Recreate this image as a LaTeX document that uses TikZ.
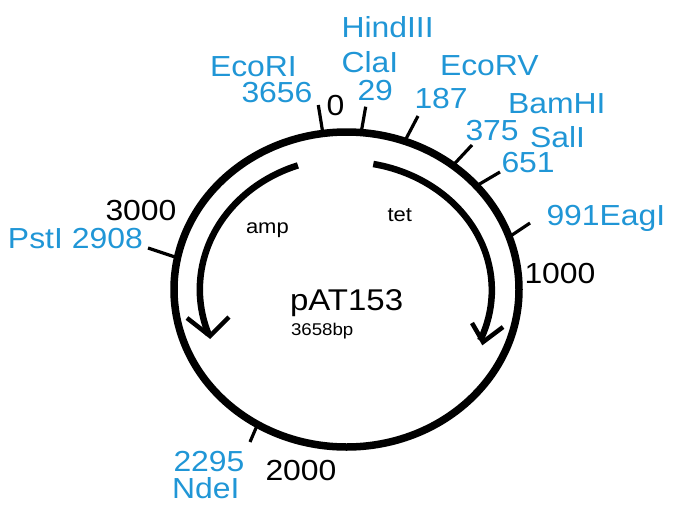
\documentclass[tikz,border=0pt]{standalone}
\usepackage{fontspec}
\setmainfont[FakeStretch=1.1]{Liberation Sans}
\definecolor{siteblue}{RGB}{32,150,214}
\begin{document}
\begin{tikzpicture}[x=1pt,y=-1pt,
  ring/.style={line width=7.5pt},
  gene/.style={line width=6.5pt},
  barb/.style={line width=4.5pt,line join=miter,miter limit=10},
  tickmark/.style={line width=3.2pt,shorten >=-5pt},
  lbl/.style={anchor=base west,inner sep=0pt,outer sep=0pt},
  site/.style={lbl,text=siteblue,font=\fontsize{29}{29}\selectfont},
  coord/.style={lbl,text=black,font=\fontsize{29}{29}\selectfont},
  gname/.style={lbl,text=black,font=\fontsize{20}{20}\selectfont}]
\useasboundingbox (0,0) rectangle (675,504);
\coordinate (c) at (346.5,289.5);
% tick marks: outer end (o) and point on ring (i)
\coordinate (t0o) at (318.3,105);   \coordinate (t0i) at (321.7,126);
\coordinate (t29o) at (365.7,106.7);\coordinate (t29i) at (362.3,126);
\coordinate (t187o) at (418,116);   \coordinate (t187i) at (408,135);
\coordinate (t375o) at (472,145);   \coordinate (t375i) at (458,160);
\coordinate (t651o) at (500,172);   \coordinate (t651i) at (483,182);
\coordinate (t991o) at (530,223);   \coordinate (t991i) at (515,233);
\coordinate (t2908o) at (148,248);  \coordinate (t2908i) at (172,256);
\coordinate (t2295o) at (250,442);  \coordinate (t2295i) at (256,428);
\foreach \t in {t0,t29,t187,t375,t651,t991,t2908,t2295}
  \draw[tickmark] (\t o) -- (\t i);
% plasmid ring
\draw[ring] (c) ellipse [x radius=172.5, y radius=157.5];
% genes
\coordinate (ampS) at (297.9,165.4);
\coordinate (ampTip) at (210,336);
\coordinate (ampL) at (187,318);
\coordinate (ampR) at (229,317);
\draw[gene] (ampS) arc [start angle=-109.3, end angle=-200, x radius=146.5, y radius=131.5];
\draw[barb] (ampL) -- (ampTip) -- (ampR);
\coordinate (tetS) at (373.3,164.0);
\coordinate (tetTip) at (483,342);
\coordinate (tetL) at (472,323);
\coordinate (tetR) at (503,327);
\draw[gene] (tetS) arc [start angle=-79, end angle=23, x radius=146.5, y radius=128.5];
\draw[barb] (tetL) -- (tetTip) -- (tetR);
% site labels
\node[site] (hind) at (341.5,37) {HindIII};
\node[site] (cla) at (341.5,72) {ClaI};
\node[site] (n29) at (357.5,100) {29};
\node[site] (eco) at (210,76) {EcoRI};
\node[site] (n3656) at (241.5,102) {3656};
\node[coord] (zero) at (326.5,115) {0};
\node[site] (ecorv) at (440,75) {EcoRV};
\node[site] (n187) at (414.5,108) {187};
\node[site] (bam) at (508,113) {BamHI};
\node[site] (n375) at (465.5,140) {375};
\node[site] (sal) at (530,147) {SalI};
\node[site] (n651) at (501.5,172) {651};
\node[site] (eag) at (546.5,225) {991EagI};
\node[coord] (k1) at (524.5,283) {1000};
\node[coord] (k3) at (105.5,220) {3000};
\node[site] (pst) at (8,248) {PstI 2908};
\node[site] (n2295) at (173.5,471) {2295};
\node[site] (nde) at (172,498) {NdeI};
\node[coord] (k2) at (265.5,480) {2000};
% centre labels
\node[lbl,font=\fontsize{30}{30}\selectfont] (name) at (290,310) {pAT153};
\node[lbl,font=\fontsize{17}{17}\selectfont] (size) at (291,335) {3658bp};
\node[gname] (amp) at (246,233) {amp};
\node[gname] (tet) at (387.5,221) {tet};
\end{tikzpicture}
\end{document}
